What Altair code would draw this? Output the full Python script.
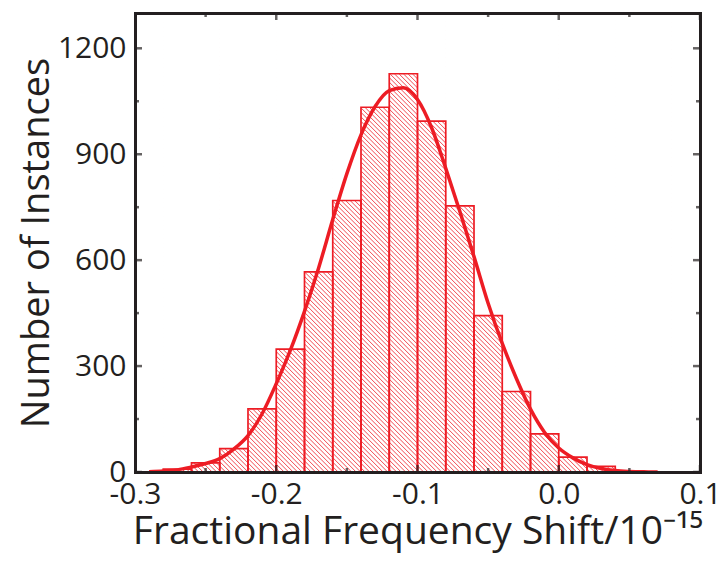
import altair as alt
import pandas as pd

# ---- data ----
bin_left = [-0.30, -0.28, -0.26, -0.24, -0.22, -0.20, -0.18, -0.16, -0.14, -0.12,
            -0.10, -0.08, -0.06, -0.04, -0.02, 0.00, 0.02, 0.04, 0.06, 0.08]
counts = [0, 8, 26, 66, 179, 348, 567, 769, 1033, 1128,
          994, 754, 443, 228, 108, 42, 16, 3, 0, 0]
bin_width = 0.02

curve_x = [-0.29, -0.28, -0.27, -0.26, -0.25, -0.24, -0.23, -0.22, -0.21, -0.20,
           -0.19, -0.18, -0.17, -0.16, -0.15, -0.14, -0.13, -0.12, -0.11, -0.10,
           -0.09, -0.08, -0.07, -0.06, -0.05, -0.04, -0.03, -0.02, -0.01, 0.00,
           0.01, 0.02, 0.03, 0.04, 0.05, 0.06, 0.07]
curve_y = [1, 3, 6, 14, 24, 38, 65, 103, 165, 250,
           345, 455, 578, 715, 845, 955, 1035, 1080, 1088, 1055,
           975, 860, 738, 610, 478, 364, 265, 178, 112, 68,
           40, 21, 10, 4, 1.5, 0.5, 0.2]

x_major = [-0.3, -0.2, -0.1, 0.0, 0.1]
x_minor = [-0.25, -0.15, -0.05, 0.05]
y_major = [0, 300, 600, 900, 1200]
y_minor = [150, 450, 750, 1050]

X_DOMAIN = [-0.3, 0.1]
Y_DOMAIN = [0, 1300]
W, H = 565, 459
RED = "#ed1c24"
INK = "#231f20"
FONT = "Open Sans"

bars = pd.DataFrame({"left": bin_left,
                     "right": [b + bin_width for b in bin_left],
                     "count": counts})
curve = pd.DataFrame({"x": curve_x, "y": curve_y})
xt = pd.DataFrame({"pos": x_major + x_minor,
                   "len": [14] * len(x_major) + [8] * len(x_minor)})
yt = pd.DataFrame({"pos": y_major + y_minor,
                   "len": [14] * len(y_major) + [8] * len(y_minor)})

xs = alt.Scale(domain=X_DOMAIN, nice=False, zero=False)
ys = alt.Scale(domain=Y_DOMAIN, nice=False, zero=False)

label_expr = "(datum.value < -1e-9 ? '-' : '') + format(abs(datum.value), '.1f')"

axis_common = dict(ticks=False, grid=False, domainWidth=3, domainColor=INK,
                   domainCap="square", labelFont=FONT, labelColor=INK,
                   labelFontSize=30, titleFont=FONT, titleColor=INK,
                   titleFontWeight="normal", zindex=1)

x_axis = alt.Axis(orient="bottom", values=x_major, labelExpr=label_expr,
                  labelFlush=False, labelOverlap=False, labelPadding=7,
                  title="Fractional Frequency Shift/10⁻¹⁵", titlePadding=3,
                  titleFontSize=39, **axis_common)
y_axis = alt.Axis(orient="left", values=y_major, format="d",
                  labelOverlap=False, labelPadding=9,
                  title="Number of Instances", titlePadding=1,
                  titleFontSize=38, **axis_common)
x_axis_top = alt.Axis(orient="top", labels=False, ticks=False, grid=False,
                      domainWidth=3, domainColor=INK, domainCap="square",
                      title=None, zindex=1)
y_axis_right = alt.Axis(orient="right", labels=False, ticks=False, grid=False,
                        domainWidth=3, domainColor=INK, domainCap="square",
                        title=None, zindex=1)

# hatch texture (45 degree strokes ~4.5 px apart), later masked above each bar
span = X_DOMAIN[1] - X_DOMAIN[0]
slant = H / W * span
step = 4.5 / W * span
start = -0.29 - slant
n_lines = int((0.09 - start) / step) + 2
hatch = alt.Chart(alt.sequence(0, n_lines, 1, as_="k")).transform_calculate(
    x0=f"{start} + datum.k * {step}",
    x1=f"{start} + datum.k * {step} + {slant}",
    yt="1300",
    yb="0",
).mark_rule(clip=True, color=RED, strokeWidth=1, opacity=0.8).encode(
    x=alt.X("x0:Q", scale=xs, axis=x_axis),
    x2="x1:Q",
    y=alt.Y("yt:Q", scale=ys, axis=y_axis),
    y2="yb:Q",
)

mask = alt.Chart(bars).mark_rect(fill="white", stroke="white", strokeWidth=1,
                                 clip=True).encode(
    x=alt.X("left:Q", scale=xs, axis=None),
    x2="right:Q",
    y=alt.Y("count:Q", scale=ys, axis=None),
    y2=alt.datum(1300),
)

outline = alt.Chart(bars).transform_filter("datum.count > 0").mark_rect(
    fillOpacity=0, stroke=RED, strokeWidth=1.7, clip=True).encode(
    x=alt.X("left:Q", scale=xs, axis=None),
    x2="right:Q",
    y=alt.Y("count:Q", scale=ys, axis=None),
    y2=alt.datum(0),
)

fit = alt.Chart(curve).mark_line(color=RED, strokeWidth=3.5, interpolate="monotone",
                                 clip=True).encode(
    x=alt.X("x:Q", scale=xs, axis=x_axis_top),
    y=alt.Y("y:Q", scale=ys, axis=y_axis_right),
)

tick_kw = dict(clip=True, color=INK, thickness=2.5)
xt_bottom = alt.Chart(xt).mark_tick(**tick_kw).encode(
    x=alt.X("pos:Q", scale=xs, axis=None), y=alt.value(H),
    size=alt.Size("len:Q", scale=None))
xt_top = alt.Chart(xt).mark_tick(**tick_kw).encode(
    x=alt.X("pos:Q", scale=xs, axis=None), y=alt.value(0),
    size=alt.Size("len:Q", scale=None))
yt_left = alt.Chart(yt).mark_tick(**tick_kw).encode(
    y=alt.Y("pos:Q", scale=ys, axis=None), x=alt.value(0),
    size=alt.Size("len:Q", scale=None))
yt_right = alt.Chart(yt).mark_tick(**tick_kw).encode(
    y=alt.Y("pos:Q", scale=ys, axis=None), x=alt.value(W),
    size=alt.Size("len:Q", scale=None))

chart = alt.layer(hatch, mask, outline, fit, xt_bottom, xt_top, yt_left, yt_right).resolve_axis(
    x="independent", y="independent"
).properties(
    width=W, height=H,
    autosize=alt.AutoSizeParams(type="none"),
    padding={"left": 127, "top": 5, "right": 19, "bottom": 82},
    background="white",
).configure_view(stroke=None)

chart.save("out.html", embed_options={"renderer": "svg", "actions": False})
